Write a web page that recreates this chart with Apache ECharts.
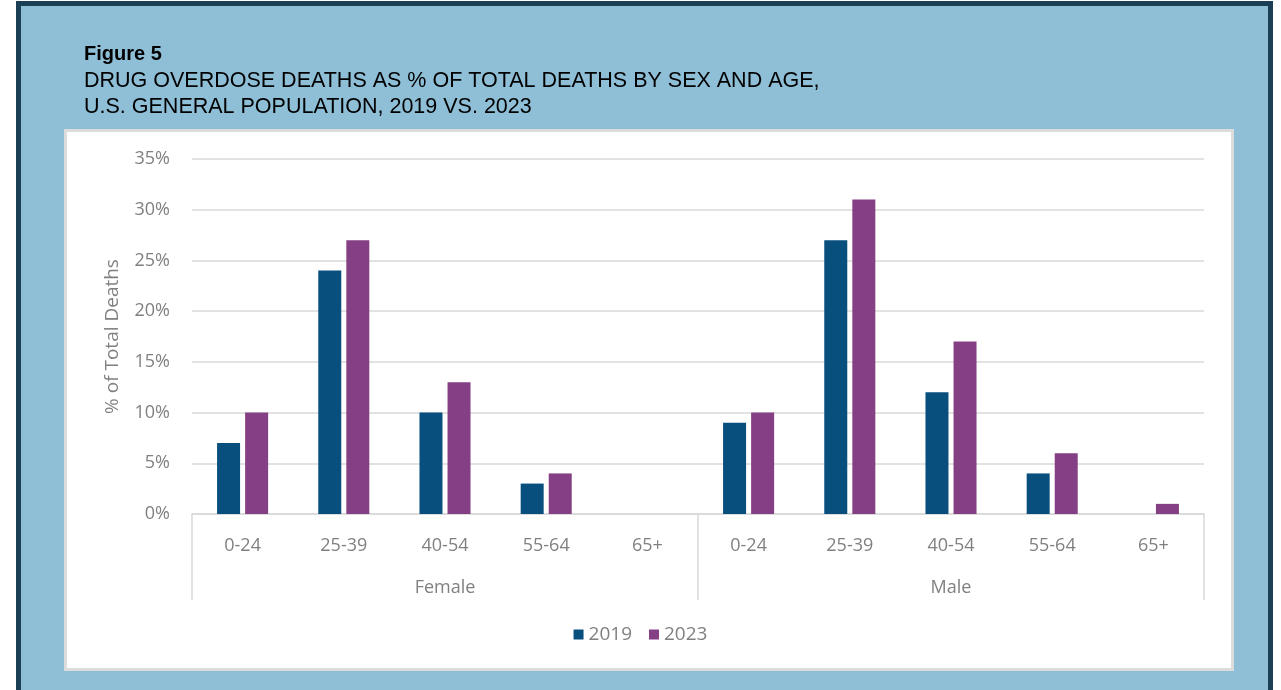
<!DOCTYPE html>
<html>
<head>
<meta charset="utf-8">
<script src="https://cdn.jsdelivr.net/npm/echarts@6/dist/echarts.min.js"></script>
<style>
  html, body { margin: 0; padding: 0; background: #ffffff; }
  body { width: 1281px; height: 690px; position: relative; overflow: hidden; }
  #frame {
    position: absolute; left: 16px; top: 1px; width: 1257px; height: 720px;
    background: #8ebfd7; border: 5px solid #1b4055; border-bottom: none; box-sizing: border-box;
  }
  #panel {
    position: absolute; left: 64px; top: 129px; width: 1170px; height: 542px;
    background: #ffffff; border: 3px solid #dcdcdc; box-sizing: border-box;
  }
  #chart { position: absolute; left: 0; top: 0; width: 1281px; height: 690px; }
</style>
</head>
<body>
<div id="frame"></div>
<div id="panel"></div>
<div id="chart"></div>
<script>
// Age bands shown under each sex group
const ageGroups = ['0-24', '25-39', '40-54', '55-64', '65+'];
const sexes = ['Female', 'Male'];
const yTicks = [0, 5, 10, 15, 20, 25, 30, 35];

// Drug overdose deaths as % of total deaths (Female bands, then Male bands)
const deaths2019 = [7, 24, 10, 3, 0, 9, 27, 12, 4, 0];
const deaths2023 = [10, 27, 13, 4, 0, 10, 31, 17, 6, 1];

const categories = [];
sexes.forEach(s => ageGroups.forEach(a => categories.push(a)));

const labelFont = '"Open Sans", "Noto Sans", sans-serif';
const gray = '#808080';
const gridGray = '#d9d9d9';

const chart = echarts.init(document.getElementById('chart'), null, { renderer: 'canvas' });
chart.setOption({
  animation: false,
  backgroundColor: 'transparent',
  title: {
    text: 'Figure 5',
    subtext: 'DRUG OVERDOSE DEATHS AS % OF TOTAL DEATHS BY SEX AND AGE,\nU.S. GENERAL POPULATION, 2019 VS. 2023',
    left: 79, top: 39,
    itemGap: 4,
    textStyle: { fontFamily: 'Liberation Sans, Arial, sans-serif', fontWeight: 'bold', fontSize: 20, color: '#000' },
    subtextStyle: { fontFamily: 'Liberation Sans, Arial, sans-serif', fontSize: 21.5, lineHeight: 26, color: '#000' }
  },
  legend: {
    bottom: 41, left: 'center',
    itemWidth: 10, itemHeight: 10, itemGap: 17,
    icon: 'rect',
    textStyle: { fontFamily: labelFont, fontSize: 19, color: gray }
  },
  grid: { left: 192, right: 77, top: 159, bottom: 176, containLabel: false },
  xAxis: [
    {
      type: 'category',
      data: categories,
      axisLine: { show: true, lineStyle: { color: gridGray, width: 1.5 } },
      axisTick: { show: false },
      axisLabel: { interval: 0, margin: 23, fontFamily: labelFont, fontSize: 18, color: gray }
    },
    {
      type: 'category',
      data: sexes,
      position: 'bottom',
      axisLine: { show: false },
      axisTick: { show: true, interval: 0, length: 86, lineStyle: { color: gridGray, width: 1.5 } },
      axisLabel: { interval: 0, margin: 65, fontFamily: labelFont, fontSize: 18, color: gray },
      splitLine: { show: false }
    }
  ],
  yAxis: {
    type: 'value',
    min: yTicks[0], max: yTicks[yTicks.length - 1], interval: 5,
    name: '% of Total Deaths',
    nameLocation: 'middle',
    nameGap: 70,
    nameTextStyle: { fontFamily: labelFont, fontSize: 19, color: gray },
    axisLine: { show: false },
    axisTick: { show: false },
    axisLabel: { formatter: '{value}%', margin: 22, fontFamily: labelFont, fontSize: 18, color: gray },
    splitLine: { lineStyle: { color: gridGray, width: 1.5 } }
  },
  series: [
    {
      name: '2019', type: 'bar', data: deaths2019,
      xAxisIndex: 0,
      barWidth: 23, barGap: '22%',
      itemStyle: { color: '#084f7e' }
    },
    {
      name: '2023', type: 'bar', data: deaths2023,
      xAxisIndex: 0,
      barWidth: 23, barGap: '22%',
      itemStyle: { color: '#853f84' }
    }
  ]
});
</script>
</body>
</html>
